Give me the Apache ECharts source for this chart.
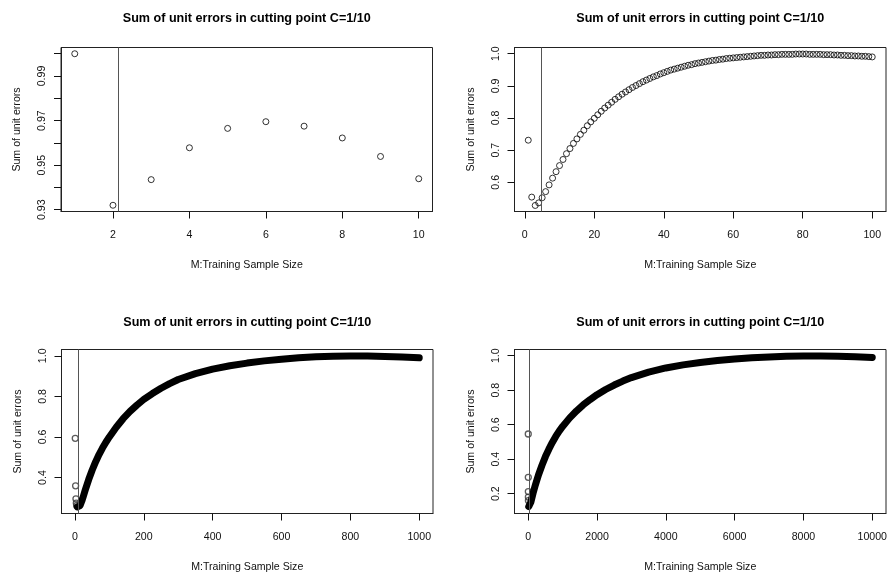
<!DOCTYPE html>
<html>
<head>
<meta charset="utf-8">
<script src="https://cdn.jsdelivr.net/npm/echarts@6/dist/echarts.min.js"></script>
<style>
* { margin: 0; padding: 0; }
body { background: #fff; }
</style>
</head>
<body>
<div id="main" style="width:888px;height:576px;background:white;"></div>
<script>
// panel 1: M = 1..10
var m10 = [1, 2, 3, 4, 5, 6, 7, 8, 9, 10];
var err10 = [1.0, 0.932, 0.9435, 0.9578, 0.9665, 0.9695, 0.9675, 0.9622, 0.9539, 0.9439];

// panel 2: M = 1..100 (one value per M)
var err100 = [
  0.731, 0.554, 0.528, 0.536, 0.552, 0.571, 0.592, 0.613, 0.633, 0.652,
  0.671, 0.689, 0.705, 0.721, 0.735, 0.749, 0.762, 0.776, 0.788, 0.799,
  0.810, 0.821, 0.831, 0.840, 0.849, 0.858, 0.866, 0.874, 0.881, 0.888,
  0.895, 0.901, 0.907, 0.913, 0.918, 0.923, 0.928, 0.932, 0.937, 0.941,
  0.945, 0.949, 0.952, 0.955, 0.958, 0.961, 0.964, 0.966, 0.969, 0.971,
  0.973, 0.975, 0.977, 0.979, 0.980, 0.982, 0.983, 0.985, 0.986, 0.987,
  0.988, 0.989, 0.990, 0.991, 0.992, 0.993, 0.994, 0.995, 0.995, 0.996,
  0.996, 0.997, 0.997, 0.998, 0.998, 0.998, 0.998, 0.999, 0.999, 0.999,
  0.999, 0.998, 0.998, 0.998, 0.998, 0.997, 0.997, 0.997, 0.996, 0.996,
  0.995, 0.995, 0.994, 0.994, 0.993, 0.993, 0.992, 0.992, 0.991, 0.990
];

// panel 3: M = 1..1000, first few points stand apart, the rest form a thick band
var outM1000 = [1, 2, 3, 4, 5];
var outErr1000 = [0.593, 0.359, 0.295, 0.274, 0.262];
var curveM1000 = [7, 10, 15, 20, 25, 30, 40, 50, 60, 70, 80, 90, 100, 120, 140, 160, 180, 200, 225, 250, 275, 300,
  350, 400, 450, 500, 550, 600, 650, 700, 750, 800, 850, 900, 950, 1000];
var curveErr1000 = [0.255, 0.253, 0.262, 0.284, 0.31, 0.338, 0.39, 0.436, 0.477, 0.513, 0.545, 0.574, 0.600, 0.648, 0.690, 0.726, 0.757, 0.785, 0.814, 0.840, 0.863, 0.883,
  0.912, 0.934, 0.951, 0.964, 0.975, 0.983, 0.990, 0.995, 0.998, 0.999, 0.999, 0.997, 0.994, 0.990];

// panel 4: M = 1..10000
var outM10000 = [1, 2, 3, 4, 5];
var outErr10000 = [0.546, 0.295, 0.212, 0.18, 0.16];
var curveM10000 = [15, 30, 50, 75, 100, 150, 200, 250, 300, 400, 500, 600, 700, 800, 900, 1000, 1200, 1400, 1600, 1800, 2000,
  2250, 2500, 2750, 3000, 3500, 4000, 4500, 5000, 5500, 6000, 6500, 7000, 7500, 8000, 8500, 9000, 9500, 10000];
var curveErr10000 = [0.125, 0.12, 0.13, 0.15, 0.17, 0.21, 0.245, 0.278, 0.31, 0.365, 0.415, 0.458, 0.497, 0.532, 0.563, 0.59, 0.638, 0.679, 0.715, 0.746, 0.774,
  0.804, 0.830, 0.853, 0.873, 0.905, 0.929, 0.947, 0.961, 0.972, 0.981, 0.988, 0.993, 0.997, 0.999, 0.999, 0.997, 0.994, 0.990];

// vertical cut lines
var cutPoints = [2.154, 4.64, 10, 21.5];

// ticks
var xTicks = [[2, 4, 6, 8, 10], [0, 20, 40, 60, 80, 100], [0, 200, 400, 600, 800, 1000], [0, 2000, 4000, 6000, 8000, 10000]];
var yTicks = [[0.93, 0.94, 0.95, 0.96, 0.97, 0.98, 0.99, 1.00], [0.6, 0.7, 0.8, 0.9, 1.0], [0.4, 0.6, 0.8, 1.0], [0.2, 0.4, 0.6, 0.8, 1.0]];
var yLabels = [[0.93, 0.95, 0.97, 0.99], [0.6, 0.7, 0.8, 0.9, 1.0], [0.4, 0.6, 0.8, 1.0], [0.2, 0.4, 0.6, 0.8, 1.0]];
var yDigits = [2, 1, 1, 1];

var titleText = "Sum of unit errors in cutting point C=1/10";
var xName = "M:Training Sample Size";
var yName = "Sum of unit errors";

var font = "Liberation Sans, Arial, Helvetica, sans-serif";

var grids = [
  { left: 61, top: 47.5, width: 371.5, height: 164 },
  { left: 514.5, top: 47.5, width: 371.5, height: 164 },
  { left: 61.5, top: 349.5, width: 371.5, height: 164 },
  { left: 514.5, top: 349.5, width: 371.5, height: 164 }
];
var xRange = [[0.64, 10.36], [-2.96, 103.96], [-38.96, 1039.96], [-398.96, 10398.96]];
var yRange = [[0.9292, 1.0028], [0.5092, 1.0193], [0.2227, 1.031], [0.085, 1.036]];
var titleTop = [12, 12, 316, 316];

function zip(a, b) {
  var out = [];
  for (var i = 0; i < a.length; i++) out.push([a[i], b[i]]);
  return out;
}

var m100 = [];
for (var i = 1; i <= err100.length; i++) m100.push(i);

var option = {
  animation: false,
  title: [],
  grid: [],
  xAxis: [],
  yAxis: [],
  series: []
};

for (var k = 0; k < 4; k++) {
  var g = grids[k];
  option.grid.push({
    left: g.left, top: g.top, width: g.width, height: g.height,
    show: true, borderColor: "#222", borderWidth: 1,
    backgroundColor: "transparent", containLabel: false, outerBoundsMode: "none"
  });
  option.title.push({
    text: titleText,
    left: g.left + g.width / 2,
    top: titleTop[k],
    textAlign: "center",
    padding: 0,
    textStyle: { fontFamily: font, fontSize: 12.6, fontWeight: "bold", color: "#000" }
  });
  option.xAxis.push({
    type: "value", gridIndex: k, position: "bottom",
    min: xRange[k][0], max: xRange[k][1],
    name: xName, nameLocation: "middle", nameGap: 48.5,
    nameTextStyle: { fontFamily: font, fontSize: 10.6, color: "#111" },
    axisLine: { show: true, onZero: false, lineStyle: { color: "#222", width: 1 } },
    splitLine: { show: false },
    axisTick: { show: true, inside: false, length: 7, customValues: xTicks[k], lineStyle: { color: "#111", width: 1 } },
    axisLabel: {
      customValues: xTicks[k], margin: 18,
      fontFamily: font, fontSize: 10.6, color: "#111",
      formatter: function (v) { return String(v); }
    }
  });
  (function (d) {
    option.yAxis.push({
      type: "value", gridIndex: k, position: "left",
      min: yRange[k][0], max: yRange[k][1],
      name: yName, nameLocation: "middle", nameGap: 38,
      nameTextStyle: { fontFamily: font, fontSize: 10.6, color: "#111" },
      axisLine: { show: true, onZero: false, lineStyle: { color: "#222", width: 1 } },
      splitLine: { show: false },
      axisTick: { show: true, inside: false, length: 7, customValues: yTicks[k], lineStyle: { color: "#111", width: 1 } },
      axisLabel: {
        customValues: yLabels[k], margin: 13, rotate: 90, inside: false,
        fontFamily: font, fontSize: 10.6, color: "#111",
        formatter: function (v) { return Number(v).toFixed(d); }
      }
    });
  })(yDigits[k]);
}

var ring = { color: "rgba(0,0,0,0)", borderColor: "#000", borderWidth: 1 };

function cutLine(v) {
  return {
    silent: true, symbol: ["none", "none"], label: { show: false },
    lineStyle: { color: "#555", width: 1, type: "solid" },
    emphasis: { disabled: true },
    data: [{ xAxis: v }]
  };
}

option.series.push({
  type: "scatter", xAxisIndex: 0, yAxisIndex: 0,
  data: zip(m10, err10), symbol: "circle", symbolSize: 6,
  itemStyle: ring, emphasis: { disabled: true },
  markLine: cutLine(cutPoints[0])
});
option.series.push({
  type: "scatter", xAxisIndex: 1, yAxisIndex: 1,
  data: zip(m100, err100), symbol: "circle", symbolSize: 6,
  itemStyle: ring, emphasis: { disabled: true },
  markLine: cutLine(cutPoints[1])
});
option.series.push({
  type: "line", xAxisIndex: 2, yAxisIndex: 2,
  data: zip(curveM1000, curveErr1000), showSymbol: false, symbol: "none",
  smooth: false,
  lineStyle: { color: "#000", width: 7, cap: "round", join: "round" },
  emphasis: { disabled: true },
  markLine: cutLine(cutPoints[2])
});
option.series.push({
  type: "scatter", xAxisIndex: 2, yAxisIndex: 2,
  data: zip(outM1000, outErr1000), symbol: "circle", symbolSize: 6,
  itemStyle: { color: "rgba(0,0,0,0)", borderColor: "#333", borderWidth: 1.3 },
  emphasis: { disabled: true }
});
option.series.push({
  type: "line", xAxisIndex: 3, yAxisIndex: 3,
  data: zip(curveM10000, curveErr10000), showSymbol: false, symbol: "none",
  smooth: false,
  lineStyle: { color: "#000", width: 7, cap: "round", join: "round" },
  emphasis: { disabled: true },
  markLine: cutLine(cutPoints[3])
});
option.series.push({
  type: "scatter", xAxisIndex: 3, yAxisIndex: 3,
  data: zip(outM10000, outErr10000), symbol: "circle", symbolSize: 6,
  itemStyle: { color: "rgba(0,0,0,0)", borderColor: "#333", borderWidth: 1.3 },
  emphasis: { disabled: true }
});

var chart = echarts.init(document.getElementById("main"));
chart.setOption(option);
</script>
</body>
</html>
